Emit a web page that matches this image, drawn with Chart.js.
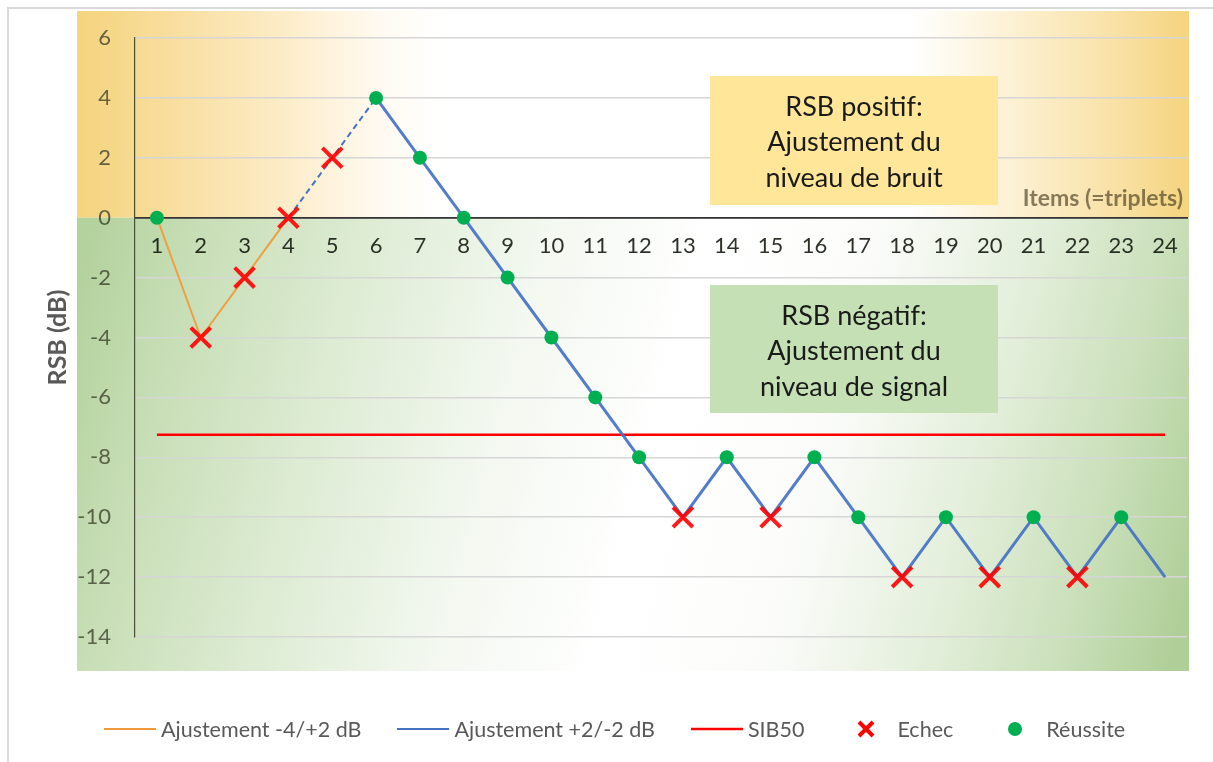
<!DOCTYPE html>
<html lang="fr">
<head>
<meta charset="utf-8">
<title>RSB (dB) par item</title>
<script src="https://cdn.jsdelivr.net/npm/chart.js@4/dist/chart.umd.min.js"></script>
<style>
  html, body { margin: 0; padding: 0; background: #fff; }
  #wrap { position: relative; width: 1213px; height: 762px; overflow: hidden; }
  #frame { position: absolute; left: 7px; top: 7px; width: 1220px; height: 780px;
           border-top: 2px solid #d9d9d9; border-left: 2px solid #d9d9d9; box-sizing: border-box; }
  canvas { position: absolute; left: 0; top: 0; }
  #legend { position: absolute; left: 104px; top: 715px; display: flex; gap: 36px;
            font-family: Lato, sans-serif; font-size: 21.5px; color: #595959; }
  #legend .item { display: flex; align-items: center; gap: 5px; height: 28px; }
  #legend svg { display: block; }
</style>
</head>
<body>
<div id="wrap">
  <div id="frame"></div>
  <canvas id="rsbChart" width="1213" height="762"></canvas>
  <div id="legend">
    <span class="item"><svg width="52" height="12"><line x1="0" y1="6" x2="52" y2="6" stroke="#F09A3A" stroke-width="2"/></svg>Ajustement -4/+2 dB</span>
    <span class="item"><svg width="52" height="12"><line x1="0" y1="6" x2="52" y2="6" stroke="#4472C4" stroke-width="2"/></svg>Ajustement +2/-2 dB</span>
    <span class="item"><svg width="52" height="12"><line x1="0" y1="6" x2="52" y2="6" stroke="#FF0000" stroke-width="2.5"/></svg>SIB50</span>
    <span class="item"><svg width="52" height="20"><path d="M19 3 L33 17 M33 3 L19 17" stroke="#FF0000" stroke-width="4"/></svg>Echec</span>
    <span class="item"><svg width="52" height="20"><circle cx="26" cy="10" r="7" fill="#00B050"/></svg>Réussite</span>
  </div>
</div>
<script>
// items (triplets) 1..24
const items = ['1','2','3','4','5','6','7','8','9','10','11','12','13','14','15','16','17','18','19','20','21','22','23','24'];

// RSB (dB)
const ajust42 = [0, -4, -2, 0, null, null, null, null, null, null, null, null, null, null, null, null, null, null, null, null, null, null, null, null];
const transition = [null, null, null, 0, 2, 4, null, null, null, null, null, null, null, null, null, null, null, null, null, null, null, null, null, null];
const ajust22 = [null, null, null, null, null, 4, 2, 0, -2, -4, -6, -8, -10, -8, -10, -8, -10, -12, -10, -12, -10, -12, -10, -12];
const echec = [null, -4, -2, 0, 2, null, null, null, null, null, null, null, -10, null, -10, null, null, -12, null, -12, null, -12, null, null];
const reussite = [0, null, null, null, null, 4, 2, 0, -2, -4, -6, -8, null, -8, null, -8, -10, null, -10, null, -10, null, -10, null];
const sib50 = -7.25;
const yTicks = [6, 4, 2, 0, -2, -4, -6, -8, -10, -12, -14];

const FONT = 'Lato, sans-serif';

// bandes de fond (orange = RSB positif, vert = RSB négatif)
const bandsPlugin = {
    id: 'bands',
    beforeDraw(chart) {
        const { ctx, chartArea: a, scales: { y } } = chart;
        const left = a.left - 58, right = a.right + 2;
        const top = a.top - 27, zero = y.getPixelForValue(0), bottom = a.bottom + 34;
        ctx.save();
        let g = ctx.createLinearGradient(left, 0, right, 0);
        g.addColorStop(0, '#F5D47E');
        g.addColorStop(0.08, '#F8DD9C');
        g.addColorStop(0.18, '#FCEBC5');
        g.addColorStop(0.27, '#FFFAF0');
        g.addColorStop(0.33, '#FFFFFF');
        g.addColorStop(0.75, '#FFFFFF');
        g.addColorStop(0.84, '#FDF1D4');
        g.addColorStop(0.93, '#F9E2A8');
        g.addColorStop(1, '#F5D47E');
        ctx.fillStyle = g;
        ctx.fillRect(left, top, right - left, zero - top);

        g = ctx.createLinearGradient(left, zero + 80, right, bottom - 80);
        g.addColorStop(0, '#B4D29E');
        g.addColorStop(0.08, '#C6DDB4');
        g.addColorStop(0.22, '#DCEBD2');
        g.addColorStop(0.38, '#F3F8F0');
        g.addColorStop(0.52, '#FFFFFF');
        g.addColorStop(0.66, '#FBFCFA');
        g.addColorStop(0.8, '#E2EED9');
        g.addColorStop(0.91, '#C9DFB9');
        g.addColorStop(1, '#B0CF98');
        ctx.fillStyle = g;
        ctx.fillRect(left, zero, right - left, bottom - zero);

        // titre de l'axe des items
        ctx.font = 'bold 23px ' + FONT;
        ctx.fillStyle = 'rgba(70,60,30,0.65)';
        ctx.textAlign = 'right';
        ctx.textBaseline = 'alphabetic';
        ctx.fillText('Items (=triplets)', a.right - 4, zero - 12);
        ctx.restore();
    }
};

// encadrés de texte
const notes = [
    { x: 710, y: 76, w: 288, h: 129, fill: '#FFE699', lines: ['RSB positif:', 'Ajustement du', 'niveau de bruit'] },
    { x: 710, y: 285, w: 288, h: 128, fill: '#C5E0B4', lines: ['RSB négatif:', 'Ajustement du', 'niveau de signal'] }
];
const notesPlugin = {
    id: 'notes',
    beforeDatasetsDraw(chart) {
        const ctx = chart.ctx;
        ctx.save();
        notes.forEach(n => {
            ctx.fillStyle = n.fill;
            ctx.fillRect(n.x, n.y, n.w, n.h);
            ctx.font = '27px ' + FONT;
            ctx.fillStyle = '#1a1a1a';
            ctx.textAlign = 'center';
            ctx.textBaseline = 'middle';
            n.lines.forEach((t, i) => ctx.fillText(t, n.x + n.w / 2, n.y + 31 + i * 35.5));
        });
        ctx.restore();
    }
};

new Chart(document.getElementById('rsbChart'), {
    type: 'line',
    data: {
        labels: items,
        datasets: [
            {
                label: 'Echec', data: echec, showLine: false, order: 0,
                pointStyle: 'crossRot', pointRadius: 14, pointBorderWidth: 4,
                pointBorderColor: 'rgba(255,0,0,0.9)', pointBackgroundColor: 'rgba(255,0,0,0.9)'
            },
            {
                label: 'Réussite', data: reussite, showLine: false, order: 0,
                pointStyle: 'circle', pointRadius: 7, pointBorderWidth: 0,
                pointBackgroundColor: '#00B050'
            },
            {
                label: 'Ajustement -4/+2 dB', data: ajust42, order: 1,
                borderColor: '#EDA044', borderWidth: 2, pointRadius: 0, spanGaps: false
            },
            {
                label: 'transition', data: transition, order: 1,
                borderColor: '#4472C4', borderWidth: 2, borderDash: [6, 4], pointRadius: 0
            },
            {
                label: 'Ajustement +2/-2 dB', data: ajust22, order: 1,
                borderColor: 'rgba(68,114,196,0.92)', borderWidth: 3, pointRadius: 0
            },
            {
                label: 'SIB50', data: [{ x: items[0], y: sib50 }, { x: items[items.length - 1], y: sib50 }], order: 2,
                borderColor: '#FF0000', borderWidth: 2.5, pointRadius: 0
            }
        ]
    },
    options: {
        responsive: false,
        animation: false,
        layout: { padding: { top: 38, right: 26, bottom: 125, left: 0 } },
        plugins: {
            legend: { display: false },
            tooltip: { enabled: false }
        },
        scales: {
            x: {
                type: 'category',
                offset: true,
                position: { y: 0 },
                grid: { display: true, color: 'rgba(0,0,0,0)', drawTicks: false },
                border: { display: true, color: '#333333', width: 1.8 },
                ticks: { color: 'rgba(15,20,10,0.88)', font: { family: FONT, size: 22 }, padding: 15, autoSkip: false, maxRotation: 0 }
            },
            y: {
                min: -14, max: 6,
                afterFit: s => { s.width = 135; },
                afterBuildTicks: s => { s.ticks = yTicks.map(v => ({ value: v })); },
                grid: { color: '#D6D6D6', lineWidth: 1.5, drawTicks: false },
                border: { display: true, color: '#4a5038', width: 1.2 },
                ticks: { color: 'rgba(50,55,35,0.74)', font: { family: FONT, size: 22 }, padding: 24 },
                title: {
                    display: true, text: 'RSB (dB)', color: '#595959',
                    font: { family: FONT, size: 25, weight: 'bold' },
                    padding: { top: 43, bottom: 0 }
                }
            }
        }
    },
    plugins: [bandsPlugin, notesPlugin]
});
</script>
</body>
</html>
